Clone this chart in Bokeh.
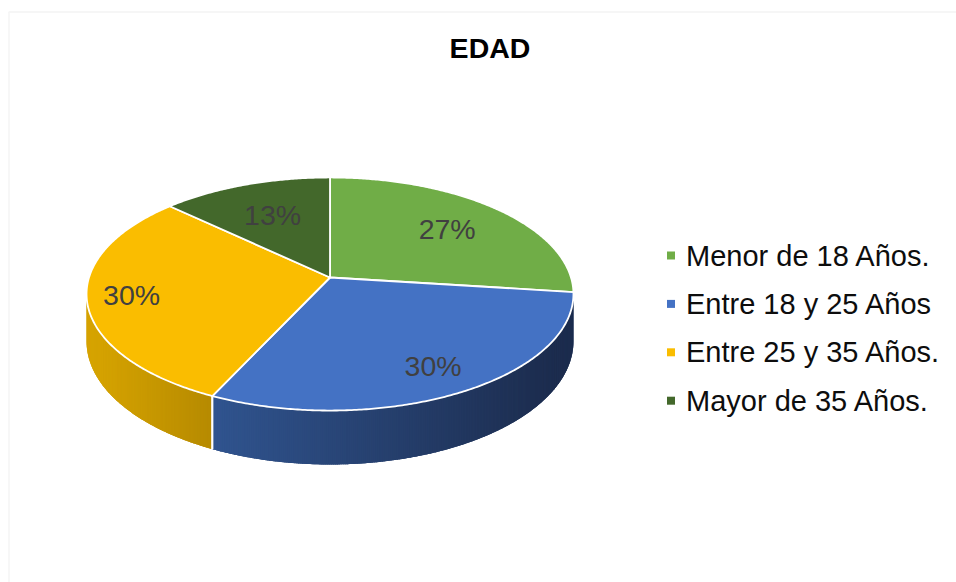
import math
from bokeh.plotting import figure
from bokeh.models import Range1d, BoxAnnotation
from bokeh.core.properties import value
from bokeh.embed import file_html
from bokeh.resources import INLINE

# ---------------- data ----------------
title_text = "EDAD"
categories = ["Menor de 18 Años.", "Entre 18 y 25 Años", "Entre 25 y 35 Años.", "Mayor de 35 Años."]
values = [27, 30, 30, 13]

# ---------------- style ----------------
top_colors = ["#70ad47", "#4472c4", "#fabd00", "#43682b"]
wall_left = ["#5d9140", "#30548f", "#d9a600", "#385a24"]
wall_right = ["#4a7532", "#1b2a4a", "#b68a00", "#2c461c"]
label_r = [0.69, 0.8, 0.82, 0.65]
FONT = "Liberation Sans"

CX, CY = 329.5, 277.0
RU, RV, K, H = 241.0, 114.2, 0.1416, 46.3


def proj(theta_deg, r=1.0, drop=0.0):
    t = math.radians(theta_deg)
    X = r * math.sin(t)
    Z = r * math.cos(t)
    d = 1.0 + K * Z
    return CX + RU * X / d, CY - RV * Z / d + drop / d


def mix(c1, c2, f):
    a = [int(c1[i:i + 2], 16) for i in (1, 3, 5)]
    b = [int(c2[i:i + 2], 16) for i in (1, 3, 5)]
    return "#%02x%02x%02x" % tuple(round(a[j] + (b[j] - a[j]) * f) for j in range(3))


total = float(sum(values))
starts, ends = [], []
acc = 0.0
for v in values:
    starts.append(acc / total * 360.0)
    acc += v
    ends.append(acc / total * 360.0)

theta_r = math.degrees(math.acos(-K))
theta_l = 360.0 - theta_r

p = figure(width=956, height=582, output_backend="svg", toolbar_location=None,
           x_range=Range1d(0, 956), y_range=Range1d(582, 0), min_border=0,
           background_fill_color="white", border_fill_color="white")
p.axis.visible = False
p.grid.visible = False
p.outline_line_color = None

# chart border (top/left visible)
p.add_layout(BoxAnnotation(left=8.5, top=11.5, right=1200, bottom=1200, fill_alpha=0,
                           line_color="#d9d9d9", line_width=1.5))

# ---------------- side walls ----------------
bx, by, bc = [], [], []
wx, wy, wc = [], [], []
sep_x0, sep_y0, sep_x1, sep_y1 = [], [], [], []
for i, (a0, a1) in enumerate(zip(starts, ends)):
    lo, hi = max(a0, theta_r), min(a1, theta_l)
    if hi <= lo:
        continue
    n = max(2, int((hi - lo) / 0.4))
    angs = [lo + (hi - lo) * j / n for j in range(n + 1)]
    xs_all = [proj(a)[0] for a in angs]
    xmin, xmax = min(xs_all), max(xs_all)
    # base polygon for the whole wall (hides seams)
    top_pts = [proj(a) for a in angs]
    bot_pts = [proj(a, drop=H) for a in reversed(angs)]
    bx.append([q[0] for q in top_pts + bot_pts])
    by.append([q[1] for q in top_pts + bot_pts])
    bc.append(mix(wall_left[i], wall_right[i], 0.5))
    step = (hi - lo) / n
    for j in range(n):
        t0 = angs[j]
        t1 = min(angs[j + 1] + step * 0.6, hi)
        x0, y0 = proj(t0)
        x1, y1 = proj(t1)
        x2, y2 = proj(t1, drop=H)
        x3, y3 = proj(t0, drop=H)
        xm = (proj(angs[j])[0] + proj(angs[j + 1])[0]) / 2.0
        f = (xm - xmin) / (xmax - xmin) if xmax > xmin else 0.0
        wx.append([x0, x1, x2, x3])
        wy.append([y0, y1, y2, y3])
        wc.append(mix(wall_left[i], wall_right[i], f))
    for b in (a0, a1):
        if theta_r < b < theta_l:
            xa, ya = proj(b)
            xb, yb = proj(b, drop=H)
            sep_x0.append(xa); sep_y0.append(ya); sep_x1.append(xb); sep_y1.append(yb)

p.patches(xs=bx, ys=by, fill_color=bc, line_color=None)
p.patches(xs=wx, ys=wy, fill_color=wc, line_color=None)
p.segment(x0=sep_x0, y0=sep_y0, x1=sep_x1, y1=sep_y1, line_color="white", line_width=1.8)

# ---------------- top faces ----------------
tx, ty = [], []
for a0, a1 in zip(starts, ends):
    n = max(4, int((a1 - a0) / 0.5))
    px, py = [CX], [CY]
    for j in range(n + 1):
        x, y = proj(a0 + (a1 - a0) * j / n)
        px.append(x); py.append(y)
    tx.append(px); ty.append(py)
p.patches(xs=tx, ys=ty, fill_color=top_colors, line_color="white", line_width=1.8,
          line_join="round")

# ---------------- data labels ----------------
lx, ly, lt = [], [], []
for i, (a0, a1) in enumerate(zip(starts, ends)):
    x, y = proj((a0 + a1) / 2.0, r=label_r[i])
    lx.append(x); ly.append(y); lt.append(f"{values[i]}%")
p.text(x=lx, y=ly, text=lt, text_font=value(FONT), text_font_size="28.5px",
       text_color="#404040", text_align="center", text_baseline="middle")

# ---------------- title ----------------
p.text(x=[489.5], y=[47.5], text=[title_text], text_font=value(FONT), text_font_size="28.5px",
       text_font_style="bold", text_color="#000000", text_align="center", text_baseline="middle")

# ---------------- legend ----------------
leg_x = [670.5] * len(categories)
leg_y = [255.0 + 48.4 * i for i in range(len(categories))]
p.scatter(x=leg_x, y=leg_y, marker="square", size=8, fill_color=top_colors, line_color=None)
p.text(x=[685.5] * len(categories), y=leg_y, text=categories, text_font=value(FONT),
       text_font_size="29px", text_color="#0d0d0d", text_align="left", text_baseline="middle")

open("out.html", "w").write(file_html(p, INLINE))
